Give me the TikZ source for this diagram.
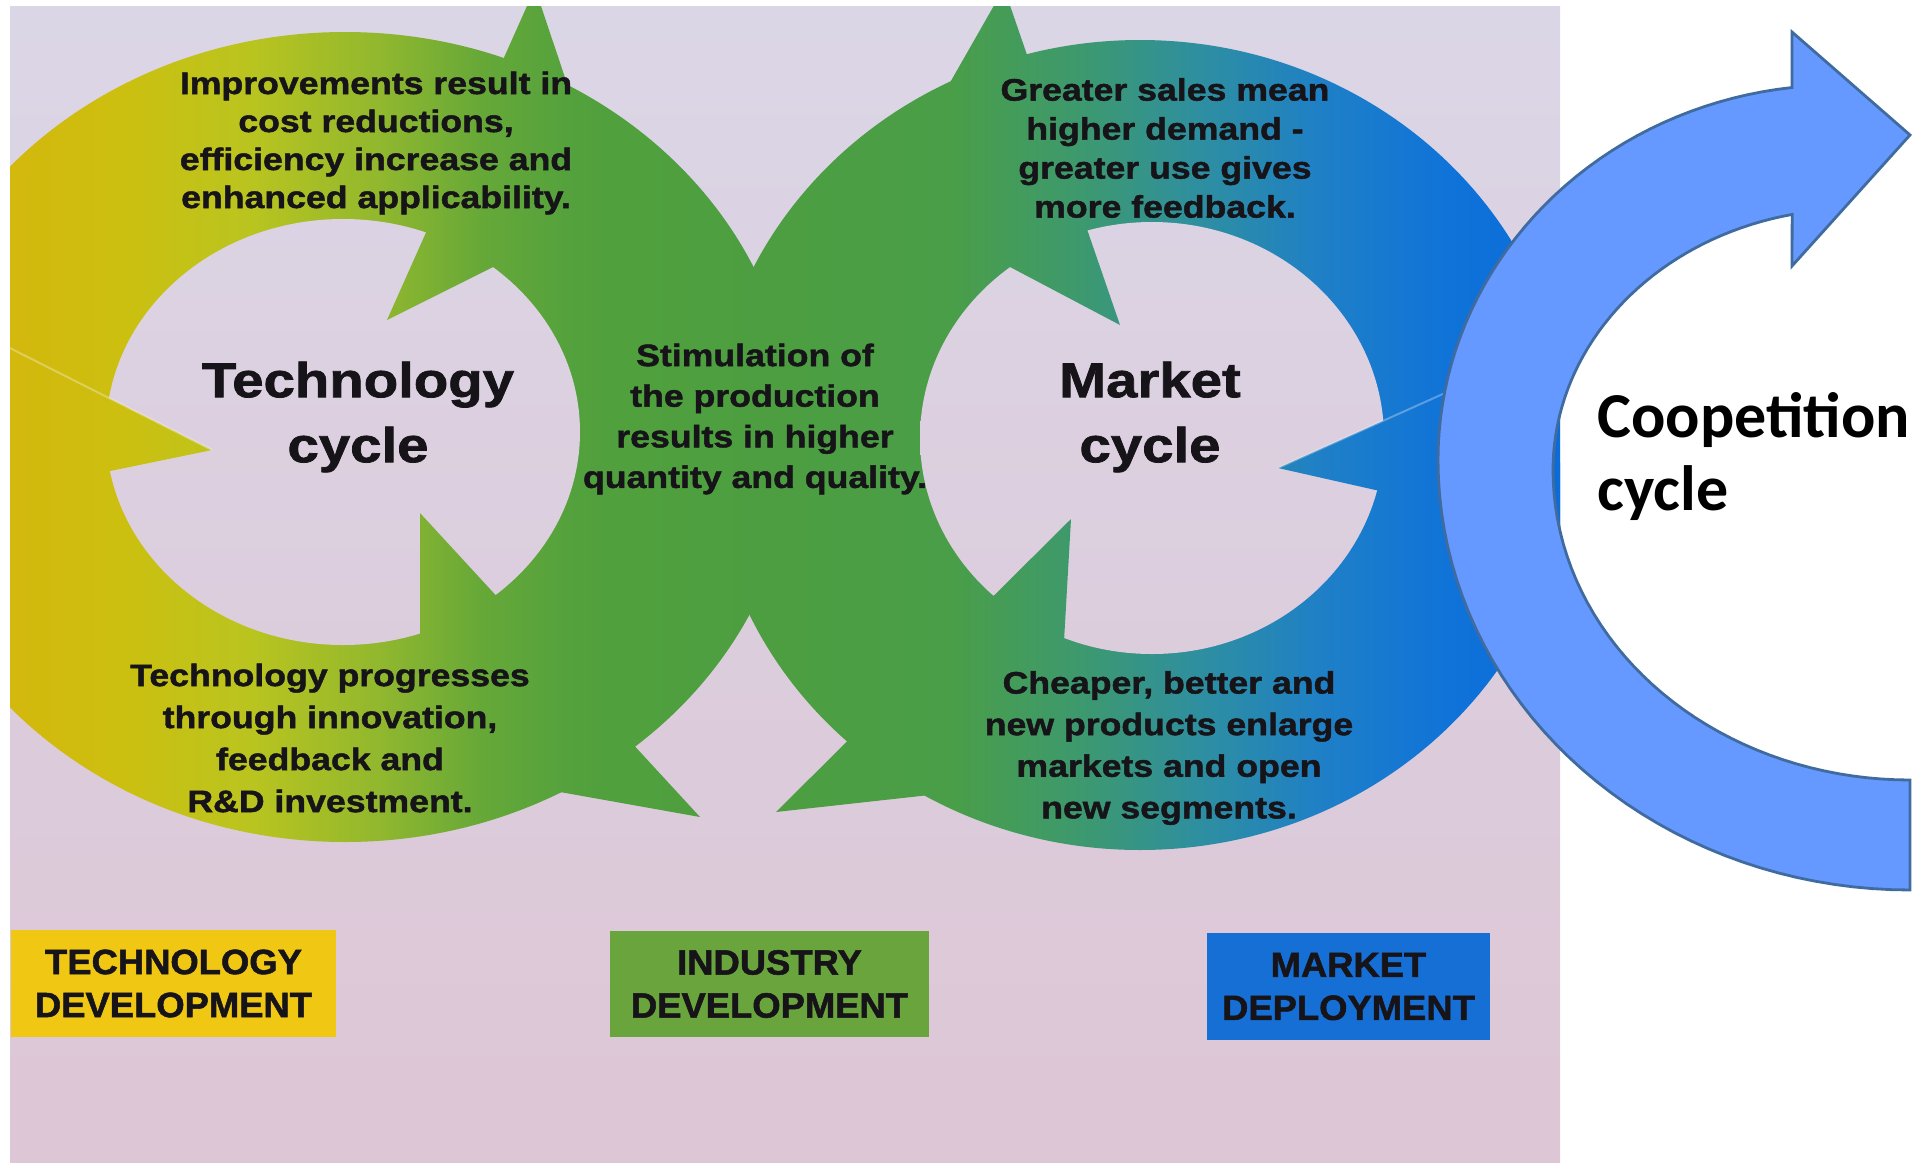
\documentclass[tikz,border=0pt]{standalone}
\usepackage{fontspec}
\newfontfamily\printfont{Liberation Sans Bold}[FakeStretch=1.15, FakeBold=1.5]
\newfontfamily\boxfont{Liberation Sans Bold}[FakeStretch=1.04, FakeBold=1.5]
\newfontfamily\coopfont{Carlito}

\definecolor{paperTop}{HTML}{DBD6E6}
\definecolor{paperBot}{HTML}{DDC6D5}
\definecolor{ink}{HTML}{161418}
\definecolor{techbox}{HTML}{F0C814}
\definecolor{indbox}{HTML}{69A53C}
\definecolor{mktbox}{HTML}{166FD4}
\definecolor{coopfill}{HTML}{6699FF}
\definecolor{coopline}{HTML}{3F6B9F}

% yellow -> green -> blue across the printed sheet (25bp..75bp spans the sheet)
\pgfdeclarehorizontalshading{rings}{100bp}{%
  rgb(0bp)=(0.83,0.72,0.05);
  rgb(25bp)=(0.83,0.72,0.05);
  rgb(28.5bp)=(0.80,0.75,0.06);
  rgb(32.7bp)=(0.73,0.77,0.12);
  rgb(36.9bp)=(0.57,0.72,0.18);
  rgb(40.2bp)=(0.40,0.66,0.22);
  rgb(43.4bp)=(0.32,0.63,0.24);
  rgb(49.2bp)=(0.30,0.62,0.25);
  rgb(55.3bp)=(0.29,0.62,0.28);
  rgb(59.5bp)=(0.24,0.60,0.43);
  rgb(63.4bp)=(0.18,0.56,0.63);
  rgb(67.3bp)=(0.12,0.50,0.78);
  rgb(71.5bp)=(0.06,0.45,0.85);
  rgb(75bp)=(0.04,0.42,0.85);
  rgb(100bp)=(0.04,0.42,0.85)}

\newcommand\ringpaint{\shade[shading=rings] (10,6) rectangle (1560,1163);}
\newcommand\paperpaint{\shade[top color=paperTop, bottom color=paperBot] (10,6) rectangle (1560,1163);}

\tikzset{
  ringtext/.style={font=\printfont\fontsize{15.5}{#1}\selectfont, text=ink, align=center, inner sep=0pt},
  cyclename/.style={font=\printfont\fontsize{24.5}{32.5}\selectfont, text=ink, align=center, inner sep=0pt},
  devbox/.style={font=\boxfont\fontsize{17.5}{21.5}\selectfont, text=ink, align=center, inner sep=0pt, minimum height=53.5pt},
  coopword/.style={font=\coopfont\bfseries\fontsize{32}{38}\selectfont, text=black, inner sep=0pt, anchor=base west},
  cooparrow/.style={draw=coopline, fill=coopfill, line width=1.4pt, line join=miter},
  seam/.style={white, opacity=.3, line width=1pt}
}

\begin{document}
\begin{tikzpicture}[x=0.5pt,y=-0.5pt]
\useasboundingbox (0,0) rectangle (1919,1163);
\fill[white] (0,0) rectangle (1919,1163);

% arrowhead corners: inner barb (I), outer barb (O), tip (T)
\coordinate (LtI) at (387,320);  \coordinate (LtO) at (535,-12);  \coordinate (LtT) at (609,209);
\coordinate (LlI) at (212,450);  \coordinate (LlO) at (-176,530); \coordinate (LlT) at (-10,338);
\coordinate (LbI) at (420,513);  \coordinate (LbO) at (700,817);  \coordinate (LbT) at (420,767);
\coordinate (RtI) at (1120,325); \coordinate (RtO) at (1004,-12); \coordinate (RtT) at (883,200);
\coordinate (RrI) at (1278,468); \coordinate (RrO) at (1588,538); \coordinate (RrT) at (1523,358);
\coordinate (RbI) at (1071,519); \coordinate (RbO) at (776,812);  \coordinate (RbT) at (1056,781);

% printed sheet
\begin{scope}
  \clip (10,6) rectangle (1560,1163);
  \paperpaint
  % ring bodies
  \begin{scope}\clip (345,437) ellipse [x radius=225pt, y radius=202.5pt]; \ringpaint\end{scope}
  \begin{scope}\clip (1140,445) ellipse [x radius=215pt, y radius=202.5pt]; \ringpaint\end{scope}
  % inner openings
  \begin{scope}\clip (343,432) ellipse [x radius=118.5pt, y radius=106.5pt]; \paperpaint\end{scope}
  \begin{scope}\clip (1152,438) ellipse [x radius=116pt, y radius=108pt]; \paperpaint\end{scope}
  % arrowheads
  \foreach \h in {Lt,Ll,Lb,Rt,Rr,Rb}{
    \begin{scope}\clip (\h I) -- (\h O) -- (\h T) -- cycle; \ringpaint\end{scope}
  }
  \draw[seam] (LlI) -- (LlT);
  \draw[seam] (RrI) -- (RrT);
\end{scope}

% texts on the rings
\node[ringtext=19pt] (improve) at (376,143)
  {Improvements result in\\cost reductions,\\efficiency increase and\\enhanced applicability.};
\node[ringtext=21pt] (progress) at (330,738)
  {Technology progresses\\through innovation,\\feedback and\\R\&D investment.};
\node[ringtext=20.3pt] (stimul) at (755,419)
  {Stimulation of\\the production\\results in higher\\quantity and quality.};
\node[ringtext=19.5pt] (sales) at (1165,148)
  {Greater sales mean\\higher demand -\\greater use gives\\more feedback.};
\node[ringtext=20.8pt] (cheaper) at (1169,748)
  {Cheaper, better and\\new products enlarge\\markets and open\\new segments.};
\node[cyclename] (techcyc) at (358,417) {Technology\\cycle};
\node[cyclename] (mktcyc) at (1150,417) {Market\\cycle};

% stage labels
\node[devbox, fill=techbox, minimum width=162.5pt] (techdev) at (173.5,983.5) {TECHNOLOGY\\DEVELOPMENT};
\node[devbox, fill=indbox, minimum width=159.5pt, minimum height=53pt] (inddev) at (769.5,984) {INDUSTRY\\DEVELOPMENT};
\node[devbox, fill=mktbox, minimum width=141.5pt] (mktdep) at (1348.5,986.5) {MARKET\\DEPLOYMENT};

% coopetition arrow: elliptic outer and inner edges, head at the top
\path[cooparrow]
  plot[domain=263.4:180, samples=40, variable=\t] ({1838+400*cos(\t)},{460+375*sin(\t)})
  -- plot[domain=180:90, samples=40, variable=\t] ({1910+472*cos(\t)},{460+430*sin(\t)})
  -- plot[domain=90:180, samples=40, variable=\t] ({1910+357*cos(\t)},{470+310*sin(\t)})
  -- plot[domain=180:258.3, samples=40, variable=\t] ({1853+300*cos(\t)},{470+261*sin(\t)})
  -- (1792,266) -- (1910,135) -- (1792,32) -- cycle;
\node[coopword] (coop1) at (1597,437) {Coopetition};
\node[coopword] (coop2) at (1597,510) {cycle};
\end{tikzpicture}
\end{document}
